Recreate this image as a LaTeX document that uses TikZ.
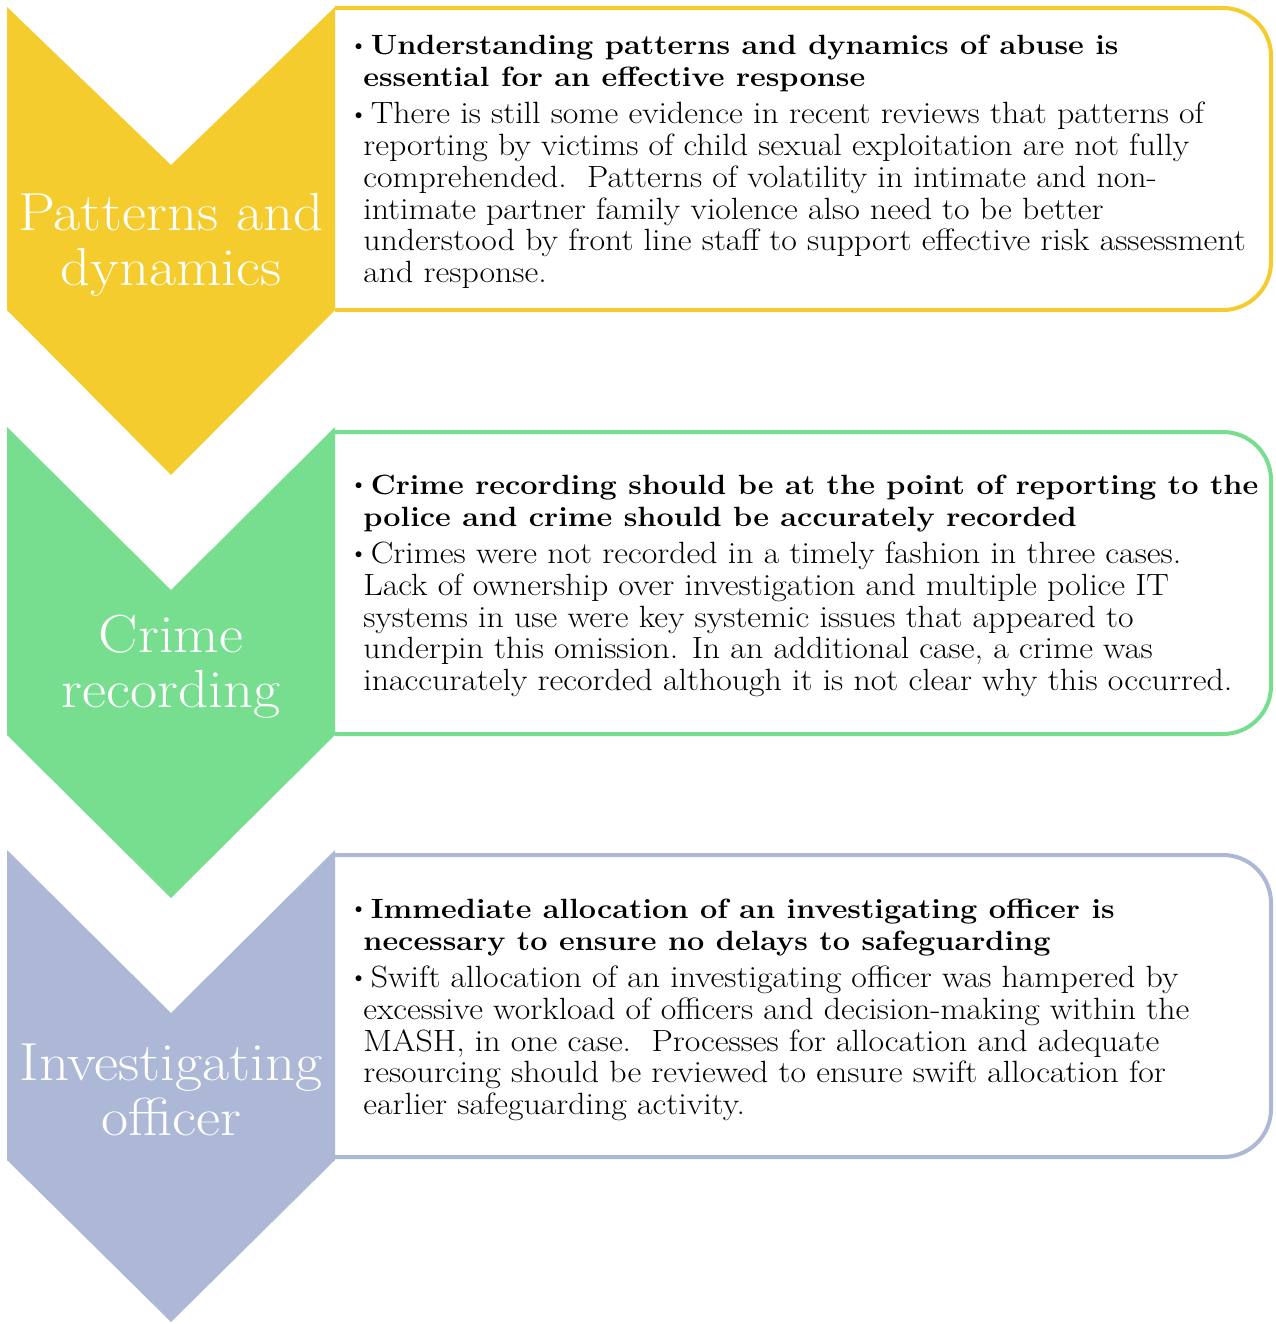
\documentclass[tikz,border=0pt]{standalone}
\usepackage{fontspec}
\setmainfont{Latin Modern Roman}[FakeStretch=1.1]
\usetikzlibrary{positioning}
\definecolor{patterncolor}{RGB}{244,204,46}
\definecolor{crimecolor}{RGB}{119,222,143}
\definecolor{officercolor}{RGB}{173,184,214}
\newcommand{\dotitem}{\hspace*{-0.17cm}\makebox[0.32cm][l]{\raisebox{0.35ex}{\scalebox{0.5}{$\bullet$}}}}
\newcommand{\headfont}{\fontsize{15.85pt}{18.1pt}\selectfont\bfseries}

\begin{document}
\begin{tikzpicture}[x=0.02cm, y=-0.02cm,
    chevlabel/.style={white, align=center, inner sep=0pt, font=\fontsize{30.5pt}{31.3pt}\selectfont},
    boxtext/.style={black, align=left, anchor=west, inner sep=0pt, font=\fontsize{17.5pt}{18.1pt}\selectfont},
    boxline/.style={line width=0.08cm, rounded corners=0.96cm}]
    \useasboundingbox (0,0) rectangle (1275,1324);

    % patterns and dynamics
    \draw[boxline, patterncolor, fill=white] (335,8) -- (1271,8) -- (1271,310) -- (335,310);
    \fill[patterncolor] (7,7) -- (171,165) -- (335,7) -- (335,310) -- (171,475) -- (7,310) -- cycle;
    \node[chevlabel] at (171,245) (PatternsLabel) {Patterns and\\dynamics};
    \node[boxtext] at (363,162) (PatternsText) {\dotitem{\headfont Understanding patterns and dynamics of abuse is}\\
        {\headfont essential for an effective response}\\[3pt]
        \dotitem There is still some evidence in recent reviews that patterns of\\
        reporting by victims of child sexual exploitation are not fully\\
        comprehended.\ \ Patterns of volatility in intimate and non-\\
        intimate partner family violence also need to be better\\
        understood by front line staff to support effective risk assessment\\
        and response.};

    % crime recording
    \draw[boxline, crimecolor, fill=white] (335,432) -- (1271,432) -- (1271,734) -- (335,734);
    \fill[crimecolor] (7,427) -- (171,590) -- (335,427) -- (335,735) -- (171,898) -- (7,735) -- cycle;
    \node[chevlabel] at (171,667) (CrimeLabel) {Crime\\recording};
    \node[boxtext] at (363,586) (CrimeText) {\dotitem{\headfont Crime recording should be at the point of reporting to the}\\
        {\headfont police and crime should be accurately recorded}\\[3pt]
        \dotitem Crimes were not recorded in a timely fashion in three cases.\\
        Lack of ownership over investigation and multiple police IT\\
        systems in use were key systemic issues that appeared to\\
        underpin this omission. In an additional case, a crime was\\
        inaccurately recorded although it is not clear why this occurred.};

    % investigating officer
    \draw[boxline, officercolor, fill=white] (335,855) -- (1271,855) -- (1271,1157) -- (335,1157);
    \fill[officercolor] (7,850) -- (171,1013) -- (335,850) -- (335,1160) -- (171,1322) -- (7,1160) -- cycle;
    \node[chevlabel] at (171,1090) (OfficerLabel) {Investigating\\officer};
    \node[boxtext] at (363,1010) (OfficerText) {\dotitem{\headfont Immediate allocation of an investigating officer is}\\
        {\headfont necessary to ensure no delays to safeguarding}\\[3pt]
        \dotitem Swift allocation of an investigating officer was hampered by\\
        excessive workload of officers and decision-making within the\\
        MASH, in one case.\ \ Processes for allocation and adequate\\
        resourcing should be reviewed to ensure swift allocation for\\
        earlier safeguarding activity.};
\end{tikzpicture}
\end{document}
